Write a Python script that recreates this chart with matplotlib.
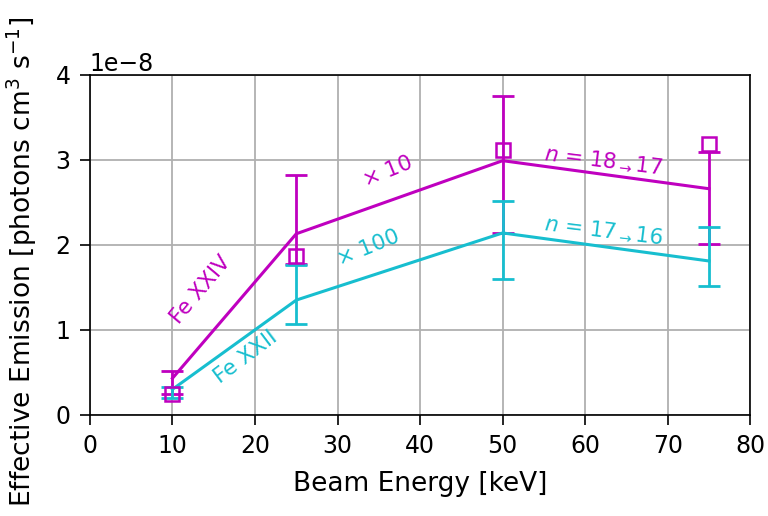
import matplotlib
matplotlib.use("Agg")
import matplotlib.pyplot as plt
import numpy as np

# Beam energies [keV]
energy = [10, 25, 50, 75]

# Fe XXIV (n = 18 -> 17), scaled x10
fe24_line = [0.43, 2.13, 2.99, 2.66]
fe24_low = [0.25, 1.78, 2.14, 2.01]
fe24_high = [0.52, 2.82, 3.75, 3.09]
fe24_points = [0.24, 1.87, 3.12, 3.19]

# Fe XXII (n = 17 -> 16), scaled x100
fe22_line = [0.30, 1.35, 2.14, 1.81]
fe22_low = [0.20, 1.07, 1.60, 1.52]
fe22_high = [0.33, 1.76, 2.51, 2.21]

scale = 1e-8
mag = "m"
cyn = "tab:cyan"

fig = plt.figure(figsize=(7.68, 5.16), dpi=100)
ax = fig.add_axes([0.117, 0.196, 0.86, 0.659])

def as_arr(v):
    return np.array(v) * scale

e = np.array(energy)
y24, lo24, hi24 = as_arr(fe24_line), as_arr(fe24_low), as_arr(fe24_high)
y22, lo22, hi22 = as_arr(fe22_line), as_arr(fe22_low), as_arr(fe22_high)

ax.plot(e, y24, color=mag, lw=2.2, zorder=3)
ax.errorbar(e, y24, yerr=[y24 - lo24, hi24 - y24], fmt="none", ecolor=mag,
            elinewidth=2, capsize=8, capthick=2, zorder=3)
ax.plot(e, y22, color=cyn, lw=2.2, zorder=4)
ax.errorbar(e, y22, yerr=[y22 - lo22, hi22 - y22], fmt="none", ecolor=cyn,
            elinewidth=2, capsize=8, capthick=2, zorder=4)
ax.plot(e, as_arr(fe24_points), ls="none", marker="s", ms=10, mfc="none",
        mec=mag, mew=1.8, zorder=5)

fs = 15.5
ax.text(13.4, 1.47e-8, "Fe XXIV", color=mag, fontsize=fs, rotation=50,
        ha="center", va="center")
ax.text(18.9, 0.68e-8, "Fe XXII", color=cyn, fontsize=fs, rotation=37,
        ha="center", va="center")
ax.text(36, 2.86e-8, r"$\times$ 10", color=mag, fontsize=fs, rotation=22,
        ha="center", va="center")
ax.text(33.7, 1.96e-8, r"$\times$ 100", color=cyn, fontsize=fs, rotation=22,
        ha="center", va="center")
ax.text(62.2, 3.0e-8, r"$n$ = 18$_{\rightarrow}$17", color=mag, fontsize=fs,
        rotation=-7, ha="center", va="center")
ax.text(62.2, 2.18e-8, r"$n$ = 17$_{\rightarrow}$16", color=cyn, fontsize=fs,
        rotation=-7, ha="center", va="center")

ax.set_xlim(0, 80)
ax.set_ylim(0, 4e-8)
ax.set_xticks(np.arange(0, 81, 10))
ax.set_yticks(np.arange(0, 4.1, 1) * scale)
ax.grid(True, color="#b0b0b0", lw=1.3)
ax.set_axisbelow(True)
ax.tick_params(labelsize=17, width=1.2, length=7, pad=7)
ax.yaxis.get_offset_text().set_fontsize(17)
for s in ax.spines.values():
    s.set_linewidth(1.2)

ax.set_xlabel("Beam Energy [keV]", fontsize=19, labelpad=9)
ax.set_ylabel(r"Effective Emission [photons cm$^3$ s$^{-1}$]", fontsize=19.1)
ax.yaxis.set_label_coords(-0.077, 0.45)

fig.savefig("out.png", dpi=100)
